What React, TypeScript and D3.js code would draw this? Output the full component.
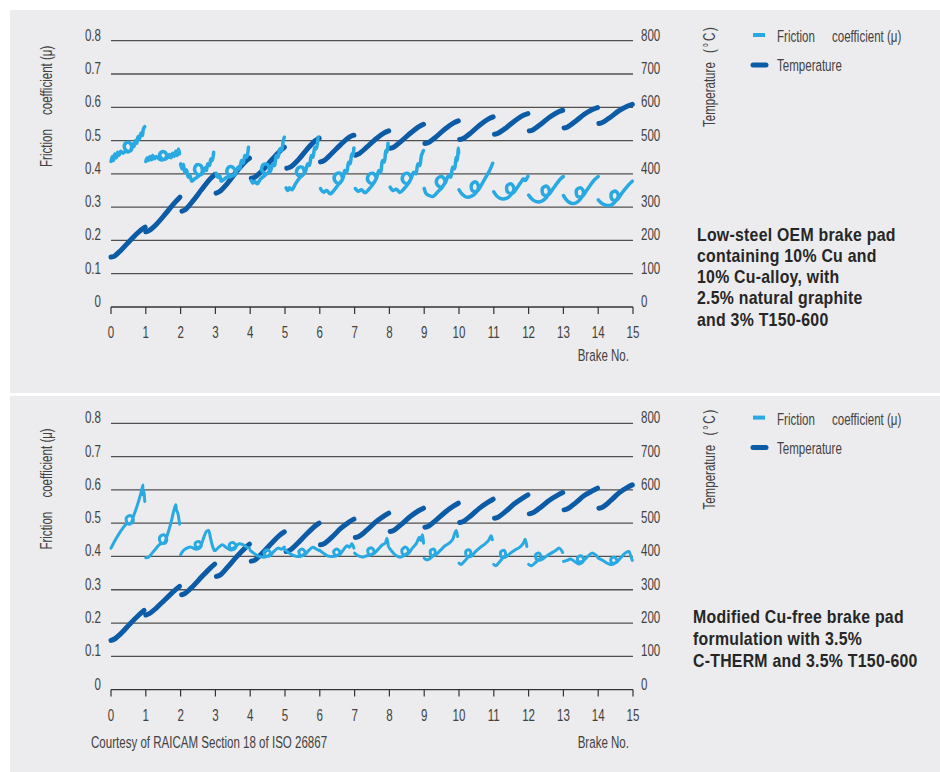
import React from 'react';
import * as d3 from 'd3';

type Pt = [number, number];

// ---- axis ticks ----
const BRAKE_TICKS = [0, 1, 2, 3, 4, 5, 6, 7, 8, 9, 10, 11, 12, 13, 14, 15];
const MU_TICKS = [0, 0.1, 0.2, 0.3, 0.4, 0.5, 0.6, 0.7, 0.8];
const MU_LABELS = ['0', '0.1', '0.2', '0.3', '0.4', '0.5', '0.6', '0.7', '0.8'];
const TEMP_TICKS = [0, 100, 200, 300, 400, 500, 600, 700, 800];

// ---- low-steel OEM pad: friction coefficient traces, one per brake [brake no., mu] ----
const OEM_FRICTION: Pt[][] = [
  [[0, 0.437], [0.04, 0.452], [0.07, 0.44], [0.11, 0.46], [0.15, 0.448], [0.19, 0.465], [0.23, 0.455], [0.28, 0.468], [0.34, 0.462], [0.42, 0.468], [0.5, 0.466], [0.6, 0.475], [0.55, 0.492], [0.44, 0.494], [0.38, 0.482], [0.46, 0.468], [0.56, 0.47], [0.62, 0.49], [0.66, 0.482], [0.7, 0.5], [0.74, 0.492], [0.78, 0.512], [0.82, 0.505], [0.86, 0.522], [0.9, 0.515], [0.93, 0.535], [0.97, 0.542]],
  [[1.0, 0.437], [1.04, 0.448], [1.08, 0.44], [1.12, 0.452], [1.16, 0.442], [1.2, 0.455], [1.25, 0.445], [1.3, 0.452], [1.38, 0.445], [1.48, 0.442], [1.6, 0.452], [1.55, 0.465], [1.44, 0.465], [1.4, 0.455], [1.5, 0.443], [1.62, 0.448], [1.68, 0.458], [1.72, 0.448], [1.77, 0.462], [1.81, 0.452], [1.86, 0.468], [1.9, 0.455], [1.94, 0.475], [1.97, 0.46]],
  [[2.0, 0.43], [2.04, 0.415], [2.08, 0.428], [2.12, 0.405], [2.17, 0.412], [2.22, 0.39], [2.27, 0.395], [2.32, 0.378], [2.4, 0.385], [2.5, 0.392], [2.62, 0.405], [2.58, 0.425], [2.46, 0.427], [2.4, 0.412], [2.5, 0.397], [2.62, 0.4], [2.7, 0.418], [2.74, 0.41], [2.78, 0.43], [2.83, 0.425], [2.87, 0.445], [2.91, 0.44], [2.95, 0.465]],
  [[3.02, 0.402], [3.07, 0.39], [3.12, 0.395], [3.17, 0.378], [3.24, 0.383], [3.33, 0.39], [3.45, 0.392], [3.57, 0.405], [3.5, 0.42], [3.38, 0.42], [3.33, 0.405], [3.45, 0.393], [3.58, 0.4], [3.65, 0.42], [3.7, 0.415], [3.75, 0.44], [3.8, 0.432], [3.85, 0.455], [3.9, 0.45], [3.95, 0.48]],
  [[4.03, 0.38], [4.08, 0.372], [4.13, 0.378], [4.2, 0.37], [4.3, 0.385], [4.42, 0.395], [4.55, 0.41], [4.5, 0.428], [4.38, 0.428], [4.33, 0.412], [4.45, 0.4], [4.58, 0.408], [4.65, 0.43], [4.7, 0.425], [4.75, 0.455], [4.8, 0.45], [4.85, 0.475], [4.9, 0.47], [4.95, 0.5], [4.98, 0.51]],
  [[5.03, 0.358], [5.08, 0.35], [5.13, 0.358], [5.2, 0.352], [5.3, 0.37], [5.42, 0.388], [5.55, 0.402], [5.5, 0.42], [5.38, 0.418], [5.33, 0.402], [5.45, 0.392], [5.58, 0.405], [5.65, 0.43], [5.7, 0.425], [5.76, 0.455], [5.8, 0.45], [5.86, 0.48], [5.9, 0.475], [5.95, 0.51]],
  [[6.02, 0.356], [6.1, 0.345], [6.2, 0.35], [6.3, 0.34], [6.42, 0.352], [6.55, 0.37], [6.65, 0.385], [6.58, 0.402], [6.45, 0.398], [6.42, 0.382], [6.55, 0.37], [6.66, 0.385], [6.72, 0.41], [6.77, 0.405], [6.83, 0.435], [6.87, 0.43], [6.92, 0.46], [6.95, 0.455], [6.98, 0.478]],
  [[7.02, 0.356], [7.1, 0.348], [7.2, 0.352], [7.3, 0.343], [7.42, 0.355], [7.55, 0.372], [7.62, 0.388], [7.52, 0.402], [7.4, 0.396], [7.38, 0.38], [7.5, 0.37], [7.62, 0.385], [7.7, 0.41], [7.75, 0.405], [7.8, 0.44], [7.85, 0.435], [7.9, 0.47], [7.93, 0.465], [7.96, 0.492]],
  [[8.02, 0.36], [8.1, 0.35], [8.2, 0.354], [8.3, 0.344], [8.42, 0.355], [8.55, 0.372], [8.62, 0.388], [8.52, 0.402], [8.4, 0.396], [8.38, 0.38], [8.5, 0.37], [8.62, 0.385], [8.7, 0.405], [8.76, 0.4], [8.82, 0.43], [8.87, 0.425], [8.92, 0.455], [8.98, 0.47]],
  [[9.0, 0.356], [9.06, 0.34], [9.14, 0.335], [9.25, 0.332], [9.38, 0.345], [9.52, 0.36], [9.6, 0.378], [9.5, 0.392], [9.38, 0.386], [9.36, 0.37], [9.48, 0.36], [9.6, 0.372], [9.7, 0.395], [9.76, 0.39], [9.82, 0.42], [9.87, 0.415], [9.92, 0.45], [9.95, 0.44], [9.98, 0.478], [9.99, 0.462]],
  [[10.0, 0.352], [10.1, 0.338], [10.22, 0.33], [10.36, 0.333], [10.5, 0.345], [10.56, 0.362], [10.48, 0.376], [10.36, 0.368], [10.38, 0.35], [10.52, 0.348], [10.66, 0.37], [10.78, 0.392], [10.88, 0.41], [10.97, 0.432]],
  [[11.0, 0.346], [11.1, 0.332], [11.22, 0.325], [11.36, 0.326], [11.5, 0.338], [11.58, 0.355], [11.5, 0.37], [11.38, 0.364], [11.4, 0.345], [11.55, 0.342], [11.68, 0.36], [11.78, 0.375], [11.85, 0.385], [11.9, 0.38], [11.98, 0.393]],
  [[12.0, 0.336], [12.12, 0.322], [12.25, 0.316], [12.38, 0.318], [12.52, 0.33], [12.6, 0.348], [12.52, 0.363], [12.4, 0.357], [12.42, 0.338], [12.56, 0.336], [12.7, 0.355], [12.82, 0.372], [12.92, 0.385], [13.0, 0.392]],
  [[13.0, 0.335], [13.12, 0.318], [13.25, 0.311], [13.38, 0.314], [13.5, 0.326], [13.58, 0.344], [13.5, 0.358], [13.38, 0.352], [13.4, 0.333], [13.54, 0.332], [13.68, 0.352], [13.8, 0.37], [13.9, 0.383], [14.0, 0.392]],
  [[14.0, 0.322], [14.12, 0.31], [14.25, 0.305], [14.38, 0.307], [14.5, 0.318], [14.58, 0.335], [14.5, 0.348], [14.38, 0.342], [14.4, 0.323], [14.54, 0.322], [14.68, 0.342], [14.8, 0.358], [14.9, 0.37], [14.98, 0.378]],
];

// ---- low-steel OEM pad: temperature per brake [brake no., degC] ----
const OEM_TEMPERATURE: Pt[][] = [
  [[0, 150], [0.1, 153], [0.3, 172], [0.55, 200], [0.8, 226], [0.98, 240]],
  [[1.0, 226], [1.1, 230], [1.3, 248], [1.55, 278], [1.8, 310], [1.98, 330]],
  [[2.04, 288], [2.14, 293], [2.35, 318], [2.6, 352], [2.85, 385], [2.98, 398]],
  [[3.02, 342], [3.12, 347], [3.35, 372], [3.6, 406], [3.85, 436], [3.98, 447]],
  [[4.03, 387], [4.13, 390], [4.35, 410], [4.6, 440], [4.85, 468], [4.98, 480]],
  [[5.05, 417], [5.15, 420], [5.38, 442], [5.62, 472], [5.85, 498], [5.98, 507]],
  [[6.02, 436], [6.12, 440], [6.35, 462], [6.6, 488], [6.85, 510], [6.98, 516]],
  [[7.02, 456], [7.12, 460], [7.35, 480], [7.6, 504], [7.85, 523], [7.98, 529]],
  [[8.02, 477], [8.12, 480], [8.35, 499], [8.6, 522], [8.85, 542], [8.98, 549]],
  [[9.02, 491], [9.12, 494], [9.35, 512], [9.6, 535], [9.85, 553], [9.98, 559]],
  [[10.02, 503], [10.12, 506], [10.35, 524], [10.6, 547], [10.85, 565], [10.98, 571]],
  [[11.02, 519], [11.12, 522], [11.35, 538], [11.6, 559], [11.85, 576], [11.98, 581]],
  [[12.02, 529], [12.12, 532], [12.35, 549], [12.6, 570], [12.85, 586], [12.98, 591]],
  [[13.02, 538], [13.12, 541], [13.35, 558], [13.6, 579], [13.85, 594], [13.98, 599]],
  [[14.02, 551], [14.12, 554], [14.35, 570], [14.6, 590], [14.85, 604], [14.98, 609]],
];

// ---- Cu-free pad: friction coefficient traces ----
const CUFREE_FRICTION: Pt[][] = [
  [[0.0, 0.425], [0.1, 0.445], [0.2, 0.463], [0.32, 0.482], [0.45, 0.498], [0.6, 0.5], [0.64, 0.512], [0.55, 0.523], [0.44, 0.515], [0.47, 0.5], [0.56, 0.498], [0.66, 0.525], [0.76, 0.555], [0.86, 0.59], [0.92, 0.615], [0.9, 0.585], [0.94, 0.6], [0.97, 0.565]],
  [[1.0, 0.396], [1.08, 0.398], [1.18, 0.41], [1.3, 0.425], [1.42, 0.438], [1.56, 0.44], [1.6, 0.452], [1.52, 0.465], [1.4, 0.458], [1.42, 0.443], [1.52, 0.44], [1.62, 0.465], [1.72, 0.5], [1.8, 0.535], [1.86, 0.555], [1.88, 0.54], [1.92, 0.53], [1.97, 0.497]],
  [[2.0, 0.405], [2.08, 0.418], [2.18, 0.425], [2.3, 0.428], [2.42, 0.422], [2.55, 0.425], [2.6, 0.435], [2.52, 0.445], [2.42, 0.44], [2.45, 0.428], [2.56, 0.43], [2.66, 0.455], [2.74, 0.475], [2.8, 0.478], [2.86, 0.455], [2.92, 0.43], [2.97, 0.418]],
  [[3.0, 0.418], [3.1, 0.428], [3.2, 0.435], [3.3, 0.428], [3.42, 0.42], [3.55, 0.422], [3.6, 0.432], [3.5, 0.442], [3.4, 0.436], [3.44, 0.424], [3.56, 0.428], [3.68, 0.438], [3.8, 0.435], [3.9, 0.428], [3.98, 0.425]],
  [[4.0, 0.418], [4.1, 0.41], [4.22, 0.402], [4.35, 0.398], [4.48, 0.4], [4.58, 0.41], [4.5, 0.42], [4.4, 0.414], [4.44, 0.402], [4.56, 0.402], [4.68, 0.415], [4.8, 0.425], [4.9, 0.422], [4.98, 0.428]],
  [[5.0, 0.42], [5.1, 0.412], [5.22, 0.404], [5.35, 0.4], [5.48, 0.402], [5.58, 0.412], [5.5, 0.422], [5.4, 0.416], [5.44, 0.404], [5.56, 0.404], [5.68, 0.418], [5.8, 0.428], [5.9, 0.422], [5.98, 0.418]],
  [[6.0, 0.418], [6.1, 0.41], [6.22, 0.402], [6.35, 0.4], [6.48, 0.402], [6.58, 0.412], [6.5, 0.422], [6.4, 0.416], [6.44, 0.404], [6.56, 0.405], [6.68, 0.42], [6.78, 0.432], [6.86, 0.428], [6.92, 0.438], [6.98, 0.425]],
  [[7.0, 0.41], [7.1, 0.402], [7.22, 0.398], [7.35, 0.402], [7.48, 0.405], [7.56, 0.415], [7.48, 0.426], [7.38, 0.42], [7.42, 0.406], [7.55, 0.408], [7.68, 0.422], [7.8, 0.435], [7.88, 0.44], [7.93, 0.455], [7.97, 0.43]],
  [[8.0, 0.425], [8.1, 0.412], [8.2, 0.402], [8.32, 0.398], [8.45, 0.405], [8.55, 0.415], [8.47, 0.428], [8.36, 0.42], [8.4, 0.405], [8.54, 0.408], [8.66, 0.425], [8.78, 0.44], [8.86, 0.458], [8.9, 0.448], [8.95, 0.465], [8.98, 0.44]],
  [[9.0, 0.395], [9.06, 0.39], [9.14, 0.392], [9.24, 0.4], [9.32, 0.41], [9.28, 0.422], [9.18, 0.418], [9.2, 0.404], [9.32, 0.404], [9.46, 0.418], [9.6, 0.432], [9.72, 0.44], [9.82, 0.452], [9.88, 0.47], [9.92, 0.478], [9.96, 0.46]],
  [[10.0, 0.38], [10.06, 0.376], [10.15, 0.385], [10.26, 0.398], [10.34, 0.408], [10.3, 0.42], [10.2, 0.416], [10.22, 0.4], [10.34, 0.4], [10.48, 0.415], [10.62, 0.428], [10.75, 0.438], [10.85, 0.448], [10.92, 0.462], [10.96, 0.45]],
  [[11.0, 0.376], [11.06, 0.372], [11.15, 0.382], [11.26, 0.396], [11.34, 0.406], [11.3, 0.418], [11.2, 0.414], [11.22, 0.398], [11.34, 0.398], [11.48, 0.41], [11.62, 0.42], [11.75, 0.428], [11.85, 0.44], [11.9, 0.452], [11.95, 0.43]],
  [[12.0, 0.376], [12.08, 0.372], [12.18, 0.38], [12.28, 0.39], [12.36, 0.398], [12.3, 0.41], [12.2, 0.405], [12.24, 0.39], [12.36, 0.39], [12.5, 0.4], [12.65, 0.41], [12.78, 0.418], [12.88, 0.425], [12.98, 0.412]],
  [[13.0, 0.385], [13.1, 0.388], [13.2, 0.392], [13.32, 0.385], [13.42, 0.378], [13.52, 0.38], [13.58, 0.392], [13.5, 0.402], [13.4, 0.396], [13.44, 0.384], [13.56, 0.386], [13.7, 0.4], [13.82, 0.41], [13.92, 0.405], [13.98, 0.398]],
  [[14.0, 0.395], [14.1, 0.39], [14.22, 0.382], [14.34, 0.376], [14.46, 0.378], [14.54, 0.388], [14.46, 0.398], [14.36, 0.392], [14.4, 0.38], [14.52, 0.382], [14.66, 0.398], [14.8, 0.412], [14.88, 0.415], [14.94, 0.4], [14.98, 0.388]],
];

// ---- Cu-free pad: temperature per brake ----
const CUFREE_TEMPERATURE: Pt[][] = [
  [[0, 148], [0.1, 152], [0.3, 170], [0.55, 198], [0.8, 224], [0.95, 238]],
  [[1.0, 224], [1.1, 228], [1.3, 245], [1.55, 270], [1.8, 295], [1.97, 310]],
  [[2.03, 285], [2.13, 289], [2.35, 310], [2.6, 338], [2.85, 365], [2.98, 377]],
  [[3.03, 340], [3.13, 344], [3.35, 368], [3.6, 398], [3.85, 425], [3.98, 437]],
  [[4.03, 386], [4.13, 389], [4.35, 410], [4.6, 438], [4.85, 464], [4.98, 474]],
  [[5.03, 415], [5.13, 418], [5.35, 438], [5.6, 465], [5.85, 490], [5.98, 500]],
  [[6.02, 435], [6.12, 438], [6.35, 458], [6.6, 484], [6.85, 504], [6.98, 512]],
  [[7.02, 457], [7.12, 460], [7.35, 479], [7.6, 503], [7.85, 522], [7.98, 530]],
  [[8.02, 475], [8.12, 478], [8.35, 497], [8.6, 520], [8.85, 538], [8.98, 545]],
  [[9.02, 488], [9.12, 491], [9.35, 510], [9.6, 533], [9.85, 552], [9.98, 560]],
  [[10.02, 502], [10.12, 505], [10.35, 523], [10.6, 546], [10.85, 564], [10.98, 572]],
  [[11.02, 515], [11.12, 518], [11.35, 536], [11.6, 559], [11.85, 577], [11.98, 585]],
  [[12.02, 528], [12.12, 531], [12.35, 548], [12.6, 569], [12.85, 585], [12.98, 592]],
  [[13.02, 540], [13.12, 543], [13.35, 561], [13.6, 583], [13.85, 598], [13.98, 605]],
  [[14.02, 545], [14.12, 548], [14.35, 567], [14.6, 591], [14.85, 608], [14.98, 615]],
];

const OEM_NOTE = [
  'Low-steel OEM brake pad',
  'containing 10% Cu and',
  '10% Cu-alloy, with',
  '2.5% natural graphite',
  'and 3% T150-600',
];
const CUFREE_NOTE = [
  'Modified Cu-free brake pad',
  'formulation with 3.5%',
  'C-THERM and 3.5% T150-600',
];
const SOURCE_NOTE = 'Courtesy of RAICAM Section 18 of ISO 26867';

const FRICTION_COLOR = '#29a9e1';
const TEMP_COLOR = '#0b5ba7';
const PANEL_BG = '#ececee';
const TEXT_COLOR = '#424242';
const FONT = "'Liberation Sans', Arial, sans-serif";

type LabelProps = {
  x: number;
  y: number;
  anchor?: 'start' | 'middle' | 'end';
  size?: number;
  rotate?: number;
  squeeze?: number;
  weight?: number | string;
  fill?: string;
  spacing?: number;
  children: React.ReactNode;
};

// condensed-looking text: regular face squeezed horizontally along its baseline
function Label({ x, y, anchor = 'start', size = 16.5, rotate = 0, squeeze = 0.7, weight = 400, fill = TEXT_COLOR, spacing = 0, children }: LabelProps) {
  return (
    <text
      transform={`translate(${x},${y}) rotate(${rotate}) scale(${squeeze},1)`}
      textAnchor={anchor}
      fontSize={size}
      fontWeight={weight}
      fill={fill}
      letterSpacing={spacing}
      fontFamily={FONT}
    >
      {children}
    </text>
  );
}

type ChartProps = {
  dy: number;
  friction: Pt[][];
  temperature: Pt[][];
  frictionWidth: number;
  note: string[];
  noteX: number;
  noteY: number;
  noteStep: number;
  brakeLabelY: number;
  source?: string;
};

function Chart({ dy, friction, temperature, frictionWidth, note, noteX, noteY, noteStep, brakeLabelY, source }: ChartProps) {
  const x = d3.scaleLinear().domain([0, 15]).range([111, 633]);
  const yMu = d3.scaleLinear().domain([0, 0.8]).range([307 + dy, 40.7 + dy]);
  const yT = d3.scaleLinear().domain([0, 800]).range([307 + dy, 40.7 + dy]);

  const muLine = d3
    .line<Pt>()
    .x((d) => x(d[0]))
    .y((d) => yMu(d[1]))
    .curve(d3.curveCatmullRom.alpha(0.5));
  const tLine = d3
    .line<Pt>()
    .x((d) => x(d[0]))
    .y((d) => yT(d[1]))
    .curve(d3.curveCatmullRom.alpha(0.5));

  const [x0, x1] = x.range();
  const axisY = yMu(0);

  return (
    <g>
      {/* horizontal grid */}
      {MU_TICKS.slice(1).map((t) => (
        <line key={t} x1={x0} x2={x1} y1={yMu(t)} y2={yMu(t)} stroke="#505050" strokeWidth={1.3} />
      ))}
      {/* x axis with downward ticks */}
      <line x1={x0} x2={x1} y1={axisY} y2={axisY} stroke="#333" strokeWidth={1.3} />
      {BRAKE_TICKS.map((b) => (
        <line key={b} x1={x(b)} x2={x(b)} y1={axisY} y2={axisY + 7} stroke="#333" strokeWidth={1.2} />
      ))}
      {BRAKE_TICKS.map((b) => (
        <Label key={b} x={x(b)} y={axisY + 31} anchor="middle">
          {b}
        </Label>
      ))}
      {/* left and right tick labels */}
      {MU_TICKS.map((t, i) => (
        <Label key={t} x={101} y={yMu(t)} anchor="end">
          {MU_LABELS[i]}
        </Label>
      ))}
      {TEMP_TICKS.map((t) => (
        <Label key={t} x={641} y={yT(t)}>
          {t}
        </Label>
      ))}

      {/* axis titles */}
      <Label x={52} y={167 + dy} rotate={-90}>Friction</Label>
      <Label x={52} y={115 + dy} rotate={-90}>coefficient (μ)</Label>
      <Label x={715} y={127 + dy} rotate={-90}>Temperature</Label>
      <Label x={715} y={53 + dy} rotate={-90} spacing={2.5}>(°C)</Label>

      {/* legend */}
      <line x1={753} x2={765} y1={35 + dy} y2={35 + dy} stroke={FRICTION_COLOR} strokeWidth={4} />
      <Label x={777} y={42 + dy}>Friction</Label>
      <Label x={832} y={42 + dy}>coefficient (μ)</Label>
      <line x1={753} x2={766} y1={65 + dy} y2={65 + dy} stroke={TEMP_COLOR} strokeWidth={5} strokeLinecap="round" />
      <Label x={777} y={71 + dy}>Temperature</Label>

      <Label x={629} y={brakeLabelY} anchor="end">Brake No.</Label>
      {source && (
        <Label x={91} y={brakeLabelY}>{source}</Label>
      )}

      {/* description */}
      {note.map((s, i) => (
        <Label key={i} x={noteX} y={noteY + i * noteStep} size={18} weight={700} fill="#262626" squeeze={0.88} spacing={0.3}>
          {s}
        </Label>
      ))}

      {/* data */}
      {temperature.map((seg, i) => (
        <path key={`t${i}`} d={tLine(seg) || ''} fill="none" stroke={TEMP_COLOR} strokeWidth={5} strokeLinecap="round" strokeLinejoin="round" />
      ))}
      {friction.map((seg, i) => (
        <path key={`f${i}`} d={muLine(seg) || ''} fill="none" stroke={FRICTION_COLOR} strokeWidth={frictionWidth} strokeLinecap="round" strokeLinejoin="round" />
      ))}
    </g>
  );
}

export default function App() {
  return (
    <svg
      width={940}
      height={772}
      style={{ position: 'absolute', left: 0, top: 0, background: '#ffffff' }}
    >
      <rect x={10} y={10} width={930} height={383} fill={PANEL_BG} />
      <rect x={10} y={396} width={930} height={376} fill={PANEL_BG} />
      <Chart
        dy={0}
        friction={OEM_FRICTION}
        temperature={OEM_TEMPERATURE}
        frictionWidth={3.5}
        note={OEM_NOTE}
        noteX={697}
        noteY={240.5}
        noteStep={21.3}
        brakeLabelY={361}
      />
      <Chart
        dy={382.6}
        friction={CUFREE_FRICTION}
        temperature={CUFREE_TEMPERATURE}
        frictionWidth={3}
        note={CUFREE_NOTE}
        noteX={693}
        noteY={623}
        noteStep={22}
        brakeLabelY={748}
        source={SOURCE_NOTE}
      />
    </svg>
  );
}
